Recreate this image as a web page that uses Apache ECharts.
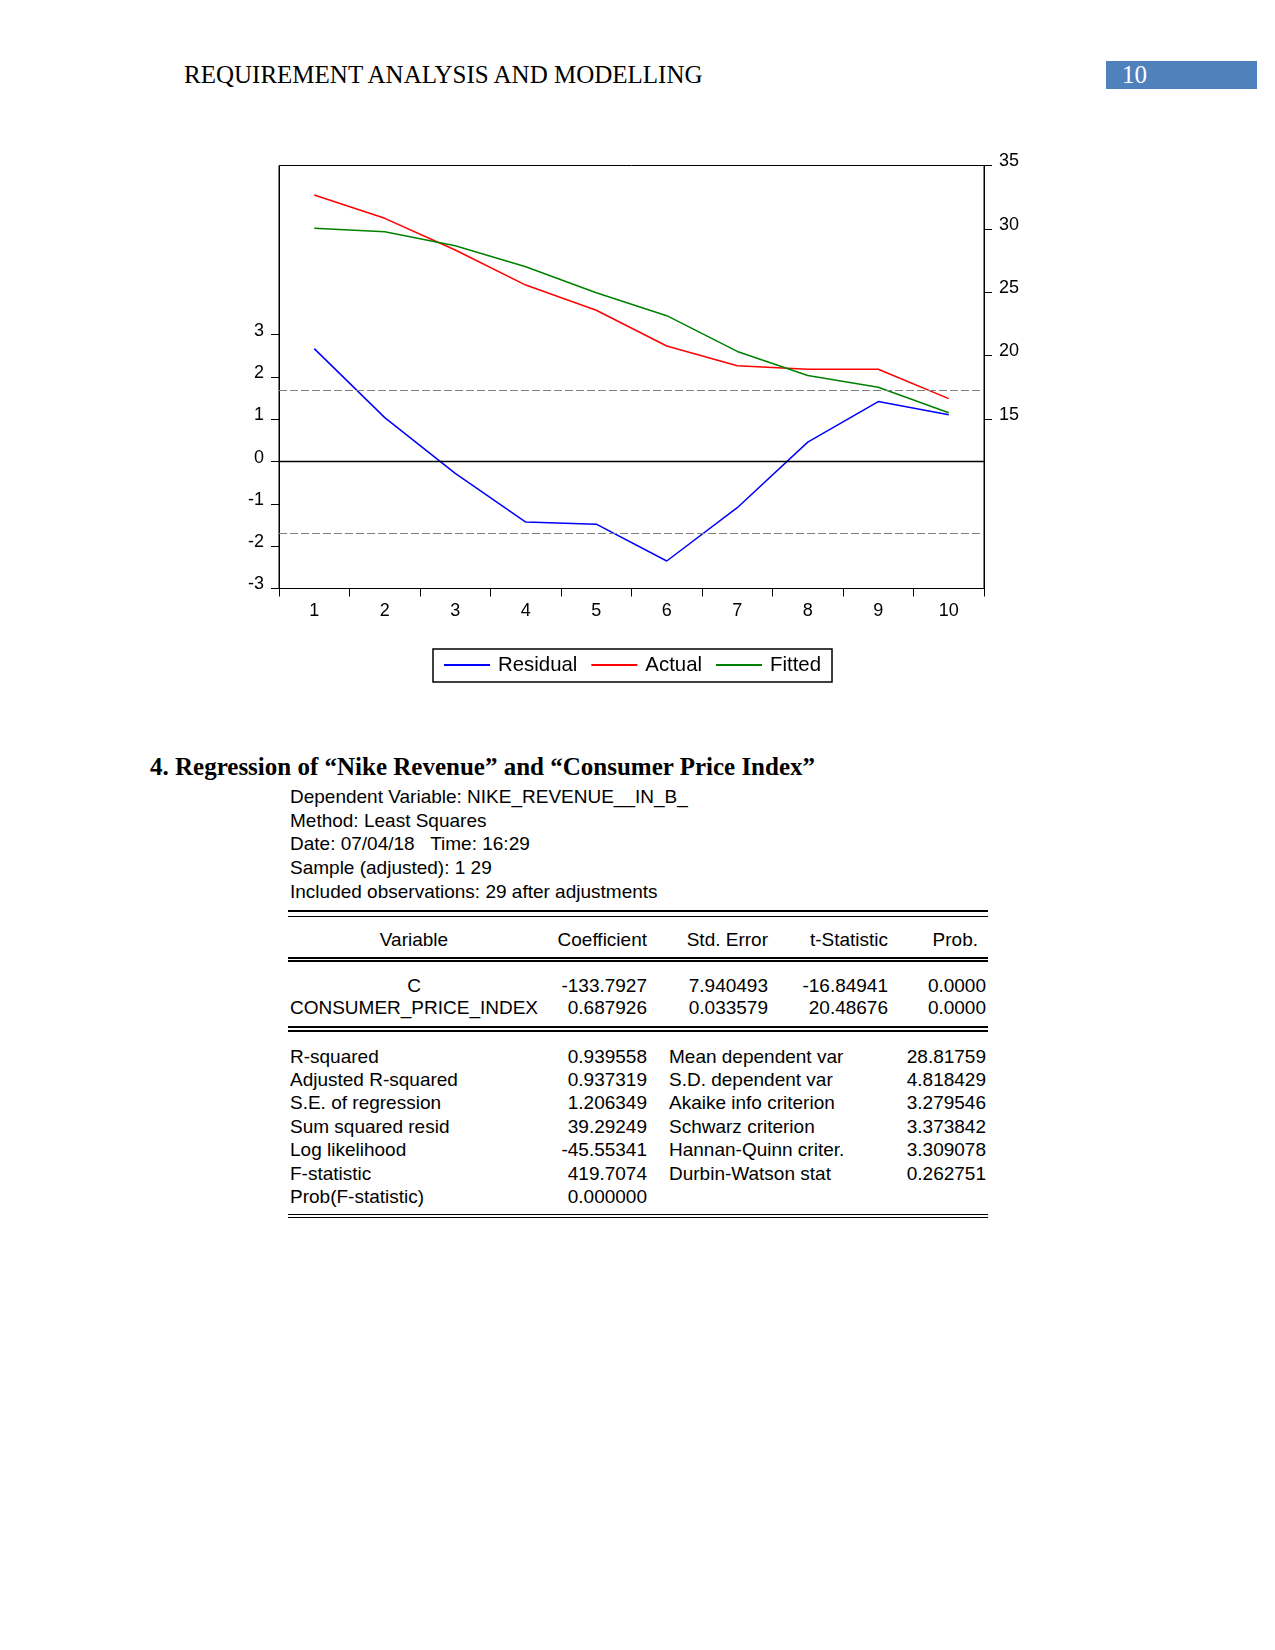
<!DOCTYPE html>
<html>
<head>
<meta charset="utf-8">
<title>Residual / Actual / Fitted</title>
<script src="https://cdn.jsdelivr.net/npm/echarts@6.0.0/dist/echarts.min.js"></script>
<style>
  body { margin: 0; background: #fff; width: 1275px; height: 1650px; position: relative;
         font-family: 'Liberation Sans', Arial, sans-serif; color: #000; }
  .serif { position: absolute; font-family: 'Liberation Serif', 'Times New Roman', serif;
           font-size: 25px; line-height: 30px; white-space: nowrap; }
  #pageno { position: absolute; left: 1106px; top: 61px; width: 151px; height: 28px; background: #4f81bd; }
  #pageno span { position: absolute; left: 16px; top: -1px; color: #fff; }
  #chart { position: absolute; left: 0; top: 0; width: 1275px; height: 700px; }
  .t { position: absolute; font-size: 19px; line-height: 23.5px; white-space: pre; }
  .rule { position: absolute; left: 288px; width: 700px; background: #000; }
</style>
</head>
<body>
<div class="serif" style="left:184px;top:60px;">REQUIREMENT ANALYSIS AND MODELLING</div>
<div id="pageno"><span class="serif" style="position:absolute;">10</span></div>

<div id="chart"></div>

<div class="serif" style="left:150px;top:752px;font-weight:bold;">4. Regression of “Nike Revenue” and “Consumer Price Index”</div>

<div class="t" style="left:290px;top:785px;line-height:23.65px;">Dependent Variable: NIKE_REVENUE__IN_B_
Method: Least Squares
Date: 07/04/18   Time: 16:29
Sample (adjusted): 1 29
Included observations: 29 after adjustments</div>

<div class="rule" style="top:910px;height:2px;"></div>
<div class="rule" style="top:915.5px;height:1.3px;"></div>

<div class="t" style="left:289px;width:250px;text-align:center;top:927.5px;">Variable</div>
<div class="t" style="right:628px;text-align:right;top:927.5px;">Coefficient</div>
<div class="t" style="right:507px;text-align:right;top:927.5px;">Std. Error</div>
<div class="t" style="right:387px;text-align:right;top:927.5px;">t-Statistic</div>
<div class="t" style="right:297px;text-align:right;top:927.5px;">Prob.</div>

<div class="rule" style="top:957.3px;height:1.3px;"></div>
<div class="rule" style="top:960.3px;height:1.3px;"></div>

<div class="t" style="left:289px;width:250px;text-align:center;top:974.5px;line-height:22.7px;">C
CONSUMER_PRICE_INDEX</div>
<div class="t" style="right:628px;text-align:right;top:974.5px;line-height:22.7px;">-133.7927
0.687926</div>
<div class="t" style="right:507px;text-align:right;top:974.5px;line-height:22.7px;">7.940493
0.033579</div>
<div class="t" style="right:387px;text-align:right;top:974.5px;line-height:22.7px;">-16.84941
20.48676</div>
<div class="t" style="right:289px;text-align:right;top:974.5px;line-height:22.7px;">0.0000
0.0000</div>

<div class="rule" style="top:1026px;height:2px;"></div>
<div class="rule" style="top:1029.5px;height:2px;"></div>

<div class="t" style="left:290px;top:1044.5px;line-height:23.44px;">R-squared
Adjusted R-squared
S.E. of regression
Sum squared resid
Log likelihood
F-statistic
Prob(F-statistic)</div>
<div class="t" style="right:628px;text-align:right;top:1044.5px;line-height:23.44px;">0.939558
0.937319
1.206349
39.29249
-45.55341
419.7074
0.000000</div>
<div class="t" style="left:669px;top:1044.5px;line-height:23.44px;">Mean dependent var
S.D. dependent var
Akaike info criterion
Schwarz criterion
Hannan-Quinn criter.
Durbin-Watson stat</div>
<div class="t" style="right:289px;text-align:right;top:1044.5px;line-height:23.44px;">28.81759
4.818429
3.279546
3.373842
3.309078
0.262751</div>

<div class="rule" style="top:1213.7px;height:1.5px;"></div>
<div class="rule" style="top:1217px;height:1.3px;"></div>

<script type="text/javascript">
// observations (x axis)
var categories = ['1', '2', '3', '4', '5', '6', '7', '8', '9', '10'];
// left axis: residual
var residual = [2.67, 1.04, -0.28, -1.43, -1.48, -2.35, -1.09, 0.46, 1.42, 1.11];
// right axis: actual and fitted
var actual = [32.67, 30.83, 28.33, 25.56, 23.57, 20.75, 19.19, 18.91, 18.91, 16.59];
var fitted = [30.04, 29.77, 28.67, 27.01, 24.95, 23.14, 20.32, 18.42, 17.49, 15.48];
// tick labels
var residTicks = [-3, -2, -1, 0, 1, 2, 3];
var levelTicks = [15, 20, 25, 30, 35];
// +/- band drawn as dashed lines on the residual axis
var seBand = 1.69;

var font = "'Liberation Sans', Arial, sans-serif";
var myChart = echarts.init(document.getElementById('chart'), null, {renderer: 'canvas'});

// y labels sit a little above their ticks
var yLabel = {fontSize: 18, color: '#000', margin: 15, fontFamily: font,
              verticalAlign: 'bottom', lineHeight: 8};

var option = {
    animation: false,
    textStyle: {fontFamily: font, color: '#000'},
    grid: {
        left: 279, top: 165.5, width: 705, height: 423,
        show: true, borderColor: '#000', borderWidth: 1, backgroundColor: 'transparent'
    },
    legend: {
        left: 433, top: 649,
        data: ['Residual', 'Actual', 'Fitted'],
        icon: 'rect', itemWidth: 46, itemHeight: 2, itemGap: 14,
        padding: [6, 11, 7, 11],
        borderColor: '#000', borderWidth: 1.5,
        selectedMode: false,
        textStyle: {fontSize: 20.4, color: '#000', fontFamily: font, padding: [0, 0, 0, 3]}
    },
    xAxis: {
        type: 'category',
        data: categories,
        boundaryGap: true,
        axisLine: {show: true, onZero: false, lineStyle: {color: '#000', width: 1}},
        axisTick: {show: true, length: 8, lineStyle: {color: '#000'}},
        axisLabel: {fontSize: 18, color: '#000', margin: 14, fontFamily: font},
        splitLine: {show: false}
    },
    yAxis: [
        {
            type: 'value', position: 'left',
            min: -3, max: 7, interval: 1,
            axisLine: {show: true, lineStyle: {color: '#000', width: 1}},
            axisTick: {show: true, length: 8, customValues: residTicks, lineStyle: {color: '#000'}},
            axisLabel: Object.assign({customValues: residTicks}, yLabel),
            splitLine: {show: false}
        },
        {
            type: 'value', position: 'right',
            min: 1.6, max: 35,
            axisLine: {show: true, lineStyle: {color: '#000', width: 1}},
            axisTick: {show: true, length: 8, customValues: levelTicks, lineStyle: {color: '#000'}},
            axisLabel: Object.assign({customValues: levelTicks}, yLabel),
            splitLine: {show: false}
        }
    ],
    series: [
        {
            name: 'Residual', type: 'line', yAxisIndex: 0,
            data: residual, color: '#0000ff',
            showSymbol: false, symbol: 'none',
            lineStyle: {width: 1.5, color: '#0000ff'},
            markLine: {
                silent: true, symbol: 'none', label: {show: false},
                data: [
                    {yAxis: 0, lineStyle: {type: 'solid', color: '#000', width: 1.3}},
                    {yAxis: seBand, lineStyle: {type: [8, 3], color: '#808080', width: 1.2}},
                    {yAxis: -seBand, lineStyle: {type: [8, 3], color: '#808080', width: 1.2}}
                ]
            }
        },
        {
            name: 'Actual', type: 'line', yAxisIndex: 1,
            data: actual, color: '#ff0000',
            showSymbol: false, symbol: 'none',
            lineStyle: {width: 1.5, color: '#ff0000'}
        },
        {
            name: 'Fitted', type: 'line', yAxisIndex: 1,
            data: fitted, color: '#008000',
            showSymbol: false, symbol: 'none',
            lineStyle: {width: 1.5, color: '#008000'}
        }
    ]
};
myChart.setOption(option);
</script>
</body>
</html>
